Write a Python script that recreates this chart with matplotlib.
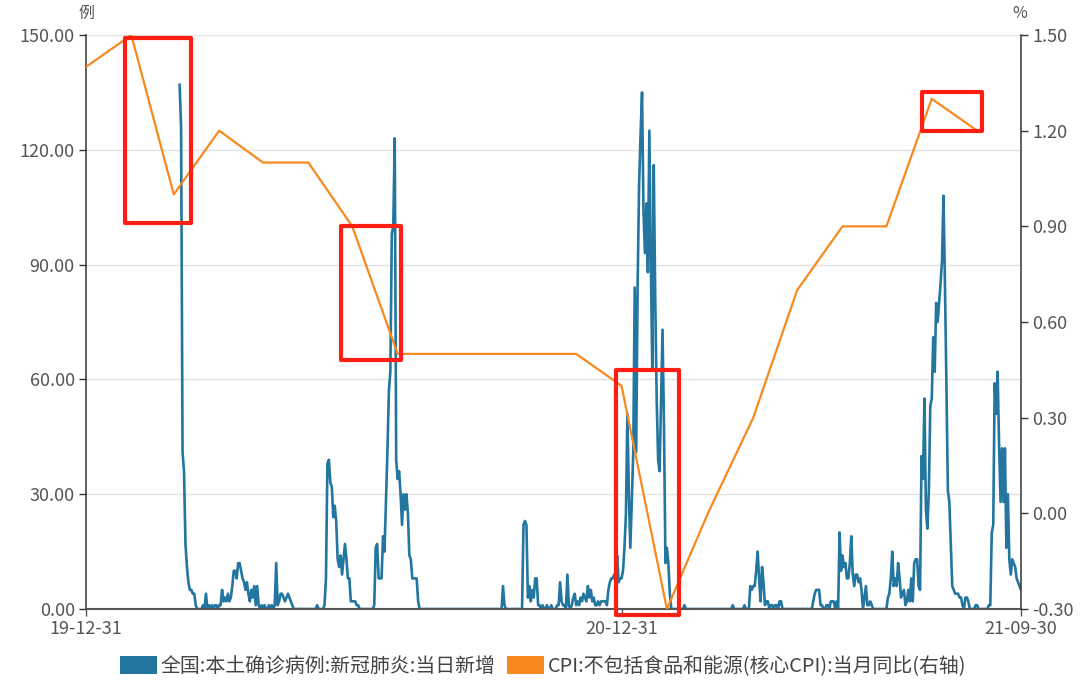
import numpy as np
import pandas as pd
import matplotlib
matplotlib.use('Agg')
import matplotlib.pyplot as plt
import matplotlib.dates as mdates
import matplotlib.ticker as mticker
from matplotlib.patches import Rectangle

plt.rcParams['font.family'] = ['Noto Sans CJK SC', 'DejaVu Sans']
plt.rcParams['axes.unicode_minus'] = False

# daily local new cases, one list per month (first list starts 2020-03-04)
month_starts = ['2020-03-04', '2020-04-01', '2020-05-01', '2020-06-01', '2020-07-01',
                '2020-08-01', '2020-09-01', '2020-10-01', '2020-11-01', '2020-12-01',
                '2021-01-01', '2021-02-01', '2021-03-01', '2021-04-01', '2021-05-01',
                '2021-06-01', '2021-07-01', '2021-08-01', '2021-09-01']

cases_2020_03 = [137, 126, 41, 36, 17, 11, 7, 5, 5, 4, 4, 1, 0, 0, 0, 0, 1, 0, 4, 0,
                 1, 0, 1, 0, 1, 1, 0, 1]
cases_2020_04 = [1, 5, 2, 3, 2, 4, 2, 3, 6, 10, 10, 8, 12, 12, 10, 8, 7, 5, 7, 4,
                 2, 5, 3, 6, 1, 6, 1, 0, 1, 0]
cases_2020_05 = [1, 0, 0, 1, 0, 1, 0, 1, 12, 1, 2, 4, 4, 3, 2, 3, 4, 3, 2, 1,
                 0, 0, 0, 0, 0, 0, 0, 0, 0, 0, 0]
cases_2020_06 = [0, 0, 0, 0, 0, 1, 0, 0, 0, 0, 1, 8, 38, 39, 33, 32, 24, 27, 23, 13,
                 11, 14, 9, 13, 17, 13, 8, 8, 2, 2]
cases_2020_07 = [2, 2, 1, 1, 0, 0, 0, 0, 0, 0, 0, 0, 0, 0, 1, 16, 17, 8, 8, 8,
                 19, 15, 28, 41, 57, 62, 98, 100, 123, 39, 34]
cases_2020_08 = [36, 30, 22, 30, 26, 30, 25, 14, 13, 8, 8, 8, 8, 2, 0, 0, 0, 0, 0, 0,
                 0, 0, 0, 0, 0, 0, 0, 0, 0, 0, 0]
cases_2020_09 = [0, 0, 0, 0, 0, 0, 0, 0, 0, 0, 0, 0, 0, 0, 0, 0, 0, 0, 0, 0,
                 0, 0, 0, 0, 0, 0, 0, 0, 0, 0]
cases_2020_10 = [0, 0, 0, 0, 0, 0, 0, 0, 0, 0, 6, 1, 0, 0, 0, 0, 0, 0, 0, 0,
                 0, 0, 0, 0, 22, 23, 22, 3, 6, 2, 5]
cases_2020_11 = [3, 8, 8, 1, 1, 0, 1, 0, 0, 1, 0, 0, 1, 0, 0, 0, 1, 1, 7, 2,
                 1, 1, 0, 9, 1, 0, 1, 3, 4, 1]
cases_2020_12 = [2, 1, 3, 2, 4, 3, 2, 6, 3, 5, 2, 3, 1, 1, 2, 1, 2, 2, 2, 2,
                 1, 5, 7, 8, 8, 9, 9, 14, 7, 8, 8]
cases_2021_01 = [10, 16, 25, 51, 30, 16, 28, 41, 84, 41, 85, 111, 124, 135, 104, 93, 106, 88, 125, 91,
                 63, 116, 82, 55, 39, 36, 55, 73, 48, 12, 16]
cases_2021_02 = [12, 4, 0, 0, 0, 0, 0, 0, 0, 0, 0, 1, 0, 0, 0, 0, 0, 0, 0, 0,
                 0, 0, 0, 0, 0, 0, 0, 0]
cases_2021_03 = [0, 0, 0, 0, 0, 0, 0, 0, 0, 0, 0, 0, 0, 0, 0, 0, 1, 0, 0, 0,
                 0, 0, 0, 0, 1, 0, 0, 0, 6, 5, 6]
cases_2021_04 = [6, 10, 15, 8, 2, 11, 7, 1, 2, 2, 0, 1, 1, 0, 1, 1, 0, 2, 2, 0,
                 0, 0, 0, 0, 0, 0, 0, 0, 0, 0]
cases_2021_05 = [0, 0, 0, 0, 0, 0, 0, 0, 0, 0, 2, 4, 5, 5, 5, 1, 1, 0, 0, 1,
                 1, 0, 2, 2, 2, 0, 2, 0, 20, 10, 14]
cases_2021_06 = [11, 12, 8, 8, 12, 19, 9, 6, 9, 9, 7, 8, 5, 0, 3, 6, 1, 1, 2, 1,
                 0, 0, 0, 0, 0, 0, 0, 0, 0, 0]
cases_2021_07 = [3, 4, 8, 15, 6, 8, 6, 12, 8, 3, 4, 5, 1, 2, 5, 2, 8, 2, 12, 13,
                 13, 6, 5, 40, 34, 55, 26, 21, 31, 53, 55]
cases_2021_08 = [71, 62, 80, 75, 80, 85, 91, 108, 85, 59, 31, 28, 17, 6, 5, 4, 4, 4, 3, 3,
                 1, 0, 3, 3, 2, 0, 0, 0, 0, 1, 1]
cases_2021_09 = [0, 0, 0, 0, 0, 0, 0, 1, 1, 20, 22, 59, 51, 62, 43, 28, 42, 28, 42, 16,
                 30, 13, 9, 13, 12, 11, 8, 7, 6, 5]

monthly_cases = [cases_2020_03, cases_2020_04, cases_2020_05, cases_2020_06, cases_2020_07,
                 cases_2020_08, cases_2020_09, cases_2020_10, cases_2020_11, cases_2020_12,
                 cases_2021_01, cases_2021_02, cases_2021_03, cases_2021_04, cases_2021_05,
                 cases_2021_06, cases_2021_07, cases_2021_08, cases_2021_09]

# core CPI yoy, month end values
cpi_months = ['2019-12', '2020-01', '2020-02', '2020-03', '2020-04', '2020-05', '2020-06',
              '2020-07', '2020-08', '2020-09', '2020-10', '2020-11', '2020-12', '2021-01',
              '2021-02', '2021-03', '2021-04', '2021-05', '2021-06', '2021-07', '2021-08']
cpi_core = [1.4, 1.5, 1.0, 1.2, 1.1, 1.1, 0.9, 0.5, 0.5, 0.5, 0.5, 0.5, 0.4, -0.3,
            0.0, 0.3, 0.7, 0.9, 0.9, 1.3, 1.2]

# highlighted boxes: (start date, end date, low %, high %) on the right axis
box_start = ['2020-01-27', '2020-06-22', '2020-12-27', '2021-07-24']
box_end = ['2020-03-12', '2020-08-02', '2021-02-08', '2021-09-03']
box_low = [0.91, 0.48, -0.32, 1.20]
box_high = [1.49, 0.90, 0.45, 1.32]

x_ticks = ['2019-12-31', '2020-12-31', '2021-09-30']
label_cases = '全国:本土确诊病例:新冠肺炎:当日新增'
label_cpi = 'CPI:不包括食品和能源(核心CPI):当月同比(右轴)'

blue = '#22769f'
orange = '#f7891f'
red = '#ff1f12'
txt = '#555555'

dates = []
cases = []
for start, vals in zip(month_starts, monthly_cases):
    dates.extend(pd.date_range(start, periods=len(vals), freq='D'))
    cases.extend(vals)

cpi_dates = pd.to_datetime(cpi_months) + pd.offsets.MonthEnd(0)

fig = plt.figure(figsize=(10.8, 6.88), dpi=100)
ax1 = fig.add_axes([0.0796, 0.1148, 0.8658, 0.8343])

ax1.plot(dates, cases, color=blue, lw=1.9)
ax1.set_xlim(pd.Timestamp('2019-12-31'), pd.Timestamp('2021-09-30'))
ax1.set_ylim(0, 150)
ax1.set_yticks(np.arange(0, 151, 30))
ax1.yaxis.set_major_formatter(mticker.FormatStrFormatter('%.2f'))
ax1.set_xticks(pd.to_datetime(x_ticks))
ax1.xaxis.set_major_formatter(mdates.DateFormatter('%y-%m-%d'))
ax1.yaxis.grid(True, color='#e2e2e2', lw=1.0)
ax1.set_axisbelow(True)

ax2 = ax1.twinx()
ax2.plot(cpi_dates, cpi_core, color=orange, lw=1.6)

for s, e, lo, hi in zip(box_start, box_end, box_low, box_high):
    x0 = mdates.date2num(pd.Timestamp(s))
    x1 = mdates.date2num(pd.Timestamp(e))
    ax2.add_patch(Rectangle((x0, lo), x1 - x0, hi - lo, fill=False, ec=red, lw=3.0,
                            joinstyle='round', clip_on=False, zorder=10))

ax2.set_xlim(pd.Timestamp('2019-12-31'), pd.Timestamp('2021-09-30'))
ax2.set_ylim(-0.3, 1.5)
ax2.set_yticks(np.round(np.arange(-0.3, 1.51, 0.3), 2))
ax2.yaxis.set_major_formatter(mticker.FormatStrFormatter('%.2f'))

for ax in (ax1, ax2):
    ax.spines['top'].set_visible(False)
ax1.spines['right'].set_visible(False)
ax2.spines['left'].set_visible(False)
ax2.spines['bottom'].set_visible(False)
ax1.spines['left'].set_color('#333333')
ax1.spines['left'].set_linewidth(1.1)
ax1.spines['bottom'].set_color('#555555')
ax1.spines['bottom'].set_linewidth(1.5)
ax2.spines['right'].set_color('#333333')
ax2.spines['right'].set_linewidth(1.1)

ax1.tick_params(axis='y', length=5, width=1, color='#333333', labelcolor=txt, labelsize=13, pad=3)
ax1.tick_params(axis='x', length=5, width=1, color='#555555', labelcolor=txt, labelsize=13, pad=3)
ax2.tick_params(axis='y', length=5, width=1, color='#333333', labelcolor=txt, labelsize=13, pad=3)

fig.text(86 / 1080, 1 - 13 / 688, '例', ha='center', va='center', fontsize=11.5, color=txt)
fig.text(1020 / 1080, 1 - 13 / 688, '%', ha='center', va='center', fontsize=11.5, color=txt)

handles = [Rectangle((0, 0), 1, 1, fc=blue, ec='none'),
           Rectangle((0, 0), 1, 1, fc=orange, ec='none')]
leg = fig.legend(handles, [label_cases, label_cpi], loc='center', bbox_to_anchor=(0.503, 0.031),
                 ncol=2, frameon=False, fontsize=14.3, handlelength=1.86, handleheight=1.0,
                 handletextpad=0.2, columnspacing=0.6)
for t in leg.get_texts():
    t.set_color('#444444')

fig.savefig('out.png', dpi=100)
